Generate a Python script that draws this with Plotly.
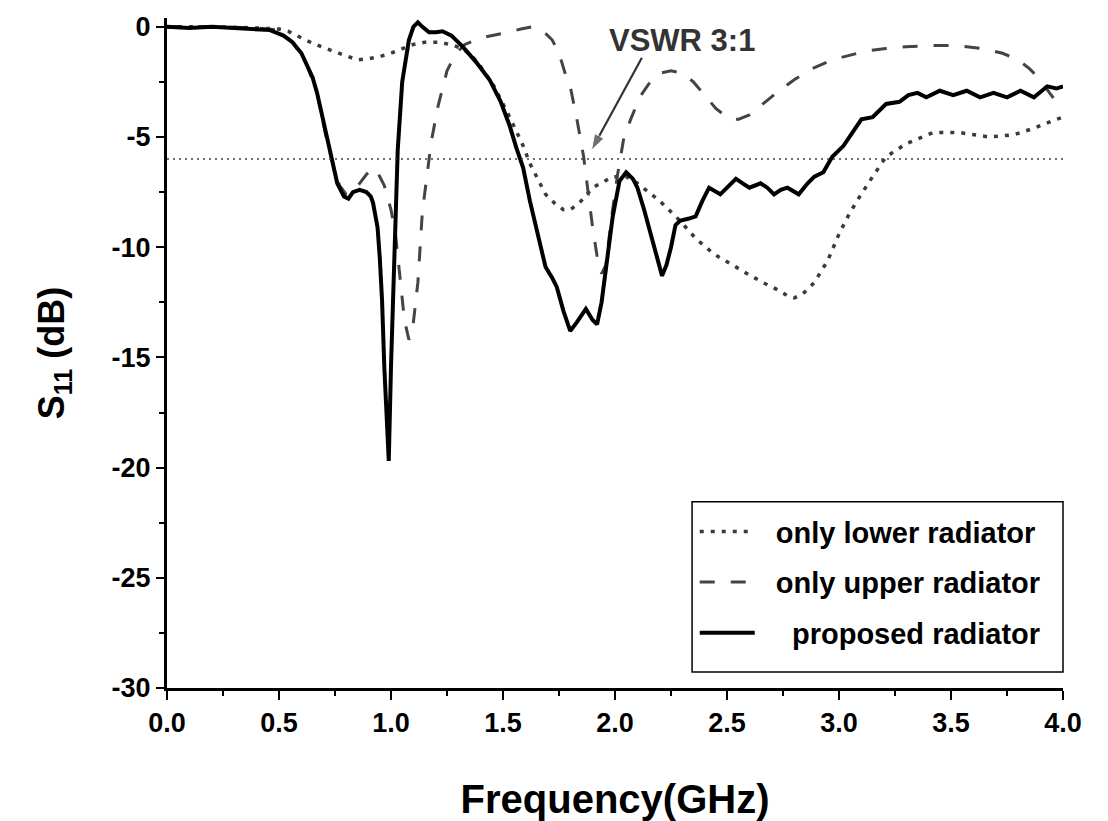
import plotly.graph_objects as go

# S11 of the three radiators
freq_proposed = [0, 0.1, 0.2, 0.3, 0.4, 0.46, 0.52, 0.56, 0.6, 0.62, 0.65, 0.67, 0.69, 0.71, 0.73, 0.74,
                 0.76, 0.79, 0.81, 0.83, 0.86, 0.89, 0.91, 0.92, 0.94, 0.95, 0.96, 0.97, 0.98, 0.99, 1.00,
                 1.01, 1.02, 1.03, 1.05, 1.08, 1.10, 1.12, 1.14, 1.17, 1.20, 1.23, 1.27, 1.32, 1.38, 1.44,
                 1.49, 1.53, 1.56, 1.59, 1.62, 1.66, 1.69, 1.72, 1.74, 1.77, 1.80, 1.83, 1.87, 1.90, 1.92,
                 1.94, 1.96, 1.99, 2.02, 2.05, 2.08, 2.10, 2.13, 2.16, 2.19, 2.21, 2.23, 2.25, 2.27, 2.29,
                 2.33, 2.36, 2.39, 2.42, 2.47, 2.51, 2.54, 2.57, 2.60, 2.65, 2.68, 2.71, 2.74, 2.77, 2.82,
                 2.86, 2.89, 2.93, 2.97, 3.02, 3.06, 3.10, 3.15, 3.21, 3.27, 3.31, 3.35, 3.39, 3.45, 3.51,
                 3.57, 3.63, 3.69, 3.75, 3.81, 3.87, 3.93, 3.97, 4.0]
s11_proposed = [0, -0.05, 0.0, -0.05, -0.1, -0.15, -0.4, -0.7, -1.2, -1.6, -2.3, -3.0, -3.9, -5.0, -5.8, -6.2,
                -7.1, -7.7, -7.8, -7.5, -7.4, -7.5, -7.7, -8.0, -9.1, -10.5, -12.4, -15.4, -18.0, -19.7, -15.4,
                -12.0, -9.4, -5.6, -2.5, -0.6, 0.0, 0.2, 0.0, -0.25, -0.25, -0.2, -0.4, -0.9, -1.6, -2.4,
                -3.4, -4.5, -5.5, -6.4, -7.9, -9.6, -10.9, -11.4, -11.8, -12.9, -13.8, -13.4, -12.8, -13.3, -13.5,
                -12.5, -10.9, -8.6, -7.0, -6.6, -6.9, -7.3, -8.3, -9.4, -10.6, -11.3, -10.8, -10.0, -9.0, -8.8,
                -8.7, -8.6, -7.9, -7.3, -7.6, -7.2, -6.9, -7.1, -7.3, -7.1, -7.3, -7.6, -7.4, -7.3, -7.6,
                -7.1, -6.8, -6.6, -5.9, -5.4, -4.8, -4.2, -4.1, -3.5, -3.4, -3.1, -3.0, -3.2, -2.9, -3.1,
                -2.9, -3.2, -3.0, -3.2, -2.9, -3.2, -2.7, -2.8, -2.7]

freq_lower = [0, 0.2, 0.4, 0.5, 0.54, 0.6, 0.64, 0.7, 0.74, 0.8, 0.85, 0.9, 0.95, 1.0, 1.05, 1.1, 1.15,
              1.22, 1.28, 1.32, 1.36, 1.40, 1.46, 1.53, 1.59, 1.62, 1.66, 1.69, 1.73, 1.77, 1.80, 1.84,
              1.90, 1.95, 1.99, 2.05, 2.10, 2.15, 2.20, 2.29, 2.36, 2.44, 2.52, 2.59, 2.66, 2.72, 2.77,
              2.80, 2.84, 2.89, 2.95, 3.00, 3.04, 3.08, 3.15, 3.21, 3.30, 3.42, 3.54, 3.67, 3.78, 3.87,
              3.97, 4.0]
s11_lower = [0, 0, -0.05, -0.1, -0.2, -0.5, -0.7, -0.95, -1.1, -1.35, -1.5, -1.45, -1.35, -1.2, -1.0, -0.8, -0.7,
             -0.7, -0.85, -1.0, -1.3, -1.8, -2.7, -4.1, -5.4, -6.2, -7.0, -7.6, -8.0, -8.3, -8.3, -8.0,
             -7.3, -7.0, -6.8, -6.8, -7.1, -7.5, -7.9, -8.8, -9.6, -10.3, -10.8, -11.2, -11.6, -11.9, -12.2,
             -12.3, -12.1, -11.6, -10.6, -9.4, -8.6, -7.9, -6.8, -5.9, -5.3, -4.8, -4.8, -5.0, -4.9, -4.6,
             -4.2, -4.1]

freq_upper = [0, 0.2, 0.4, 0.5, 0.56, 0.62, 0.67, 0.71, 0.74, 0.77, 0.80, 0.83, 0.86, 0.89, 0.92, 0.94,
              0.97, 1.00, 1.02, 1.04, 1.06, 1.08, 1.10, 1.12, 1.13, 1.14, 1.16, 1.18, 1.21, 1.25, 1.29,
              1.33, 1.40, 1.50, 1.58, 1.63, 1.68, 1.72, 1.75, 1.78, 1.80, 1.83, 1.86, 1.88, 1.90, 1.92,
              1.94, 1.96, 1.98, 2.01, 2.04, 2.07, 2.11, 2.15, 2.20, 2.25, 2.30, 2.35, 2.40, 2.45, 2.50,
              2.55, 2.60, 2.66, 2.72, 2.80, 2.88, 2.97, 3.05, 3.12, 3.20, 3.30, 3.42, 3.50, 3.57, 3.65,
              3.73, 3.80, 3.85, 3.90, 3.94, 3.97, 4.0]
s11_upper = [0, 0, -0.05, -0.15, -0.7, -1.6, -3.0, -5.0, -6.2, -7.2, -7.6, -7.5, -7.1, -6.7, -6.4, -6.6,
             -7.2, -8.3, -9.4, -11.5, -13.3, -14.2, -13.4, -11.6, -10.0, -8.4, -6.8, -5.2, -3.6, -2.0, -1.2,
             -0.8, -0.5, -0.3, -0.1, 0.0, -0.2, -0.6, -1.2, -2.2, -2.7, -4.2, -5.9, -7.6, -9.1, -10.4,
             -11.2, -10.8, -9.0, -6.8, -5.0, -4.2, -3.2, -2.6, -2.1, -2.0, -2.1, -2.5, -3.1, -3.7, -4.1,
             -4.2, -4.0, -3.5, -3.0, -2.4, -1.9, -1.5, -1.3, -1.1, -1.0, -0.9, -0.85, -0.85, -0.9, -1.0,
             -1.2, -1.5, -1.9, -2.4, -3.0, -3.4, -3.8]

VSWR_DB = -6.0
vswr_arrow_x = [2.12, 1.895]
vswr_arrow_y = [-1.4, -5.6]
x_ticks = [0, 0.5, 1.0, 1.5, 2.0, 2.5, 3.0, 3.5, 4.0]
x_tick_text = ["0.0", "0.5", "1.0", "1.5", "2.0", "2.5", "3.0", "3.5", "4.0"]
y_ticks = [0, -5, -10, -15, -20, -25, -30]
y_tick_text = ["0", "-5", "-10", "-15", "-20", "-25", "-30"]

FONT = "Liberation Sans, Arial, sans-serif"
NB = "\u00a0"

fig = go.Figure()
fig.add_trace(go.Scatter(x=freq_lower, y=s11_lower, mode="lines", name=NB * 2 + "only lower radiator" + NB,
                         legendgroup="a", line=dict(color="#3a3a3a", width=3.5, dash="4px,7px")))
fig.add_trace(go.Scatter(x=freq_upper, y=s11_upper, mode="lines", name=NB * 2 + "only upper radiator" + NB,
                         legendgroup="b", line=dict(color="#444444", width=3, dash="15px,16px")))
fig.add_trace(go.Scatter(x=freq_proposed, y=s11_proposed, mode="lines", name=NB * 4 + "proposed radiator" + NB,
                         legendgroup="c", line=dict(color="black", width=4)))

# arrow pointing at the VSWR 3:1 line
fig.add_trace(go.Scatter(x=vswr_arrow_x, y=vswr_arrow_y, mode="lines+markers", showlegend=False,
                         hoverinfo="skip", line=dict(color="#333333", width=2.2),
                         marker=dict(symbol="arrow", size=[0, 17], angleref="previous", color="#333333")))

fig.add_hline(y=VSWR_DB, line=dict(color="#444444", width=1.5, dash="2px,4px"))

# legend frame drawn separately so it can be padded like the original
fig.add_shape(type="rect", xref="paper", yref="paper", x0=0.586, x1=1.0, y0=0.024, y1=0.278,
              line=dict(color="black", width=1.5), fillcolor="white", layer="above")

fig.add_annotation(x=2.30, y=-0.6, text="<b>VSWR 3:1</b>", showarrow=False,
                   font=dict(family=FONT, size=31, color="#333333"))

fig.update_layout(
    width=1100, height=813,
    paper_bgcolor="white", plot_bgcolor="white",
    margin=dict(l=159, r=45, t=10, b=133),
    font=dict(family=FONT, color="black"),
    showlegend=True,
    legend=dict(x=0.589, y=0.2716, xanchor="left", yanchor="top",
                bgcolor="rgba(0,0,0,0)", borderwidth=0,
                font=dict(family=FONT, size=29, color="black", weight="bold"),
                itemwidth=55, traceorder="grouped", tracegroupgap=10),
    xaxis=dict(range=[0, 4], tickvals=x_ticks, ticktext=x_tick_text, automargin=False,
               showgrid=False, zeroline=False, showline=True, linecolor="black", linewidth=3,
               ticks="outside", ticklen=9, tickwidth=2, tickcolor="black",
               minor=dict(dtick=0.25, ticks="outside", ticklen=5, tickwidth=2, tickcolor="black"),
               tickfont=dict(family=FONT, size=27, color="black", weight="bold"),
               title=dict(text="<b>Frequency(GHz)</b>", standoff=53,
                          font=dict(family=FONT, size=40, color="black"))),
    yaxis=dict(range=[-30, 0.4], tickvals=y_ticks, ticktext=y_tick_text, automargin=False,
               showgrid=False, zeroline=False, showline=True, linecolor="black", linewidth=3,
               ticks="outside", ticklen=8, tickwidth=2, tickcolor="black",
               minor=dict(dtick=2.5, ticks="outside", ticklen=5, tickwidth=2, tickcolor="black"),
               tickfont=dict(family=FONT, size=27, color="black", weight="bold"),
               title=dict(text="<b>S<sub>11</sub> (dB)</b>", standoff=36,
                          font=dict(family=FONT, size=36, color="black"))),
)

fig.write_html("out.html")
